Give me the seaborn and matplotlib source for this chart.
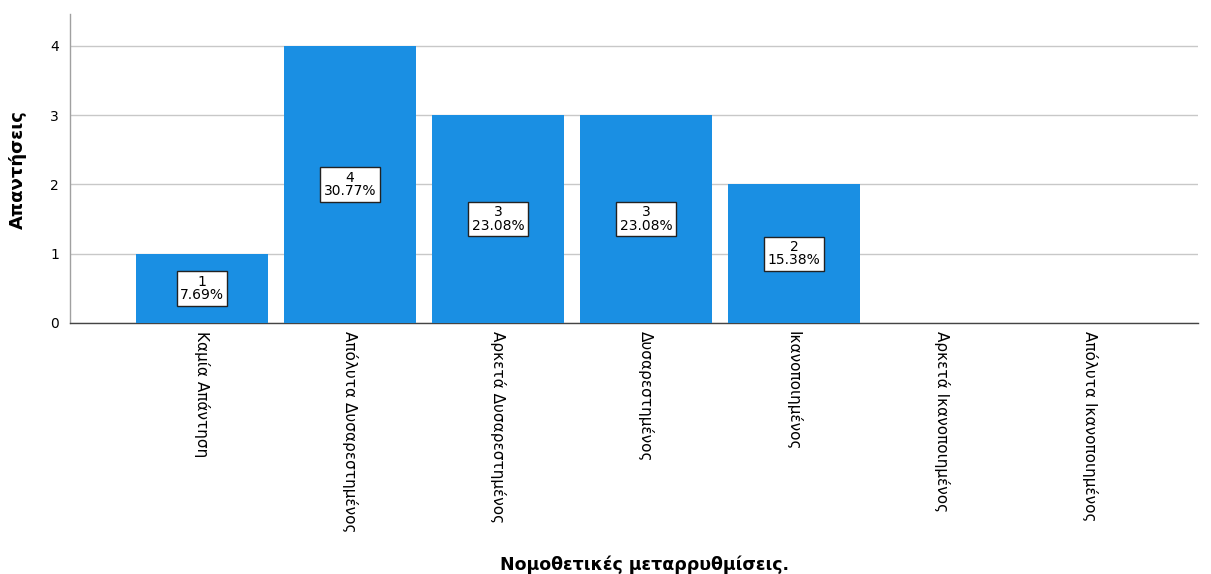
import matplotlib
matplotlib.use("Agg")
import matplotlib.pyplot as plt
import seaborn as sns
import pandas as pd

categories = ["Καμία Απάντηση", "Απόλυτα Δυσαρεστημένος", "Αρκετά Δυσαρεστημένος",
              "Δυσαρεστημένος", "Ικανοποιημένος", "Αρκετά Ικανοποιημένος",
              "Απόλυτα Ικανοποιημένος"]
counts = [1, 4, 3, 3, 2, 0, 0]
percents = ["7.69%", "30.77%", "23.08%", "23.08%", "15.38%", "", ""]
yticks = [0, 1, 2, 3, 4]

sns.set_style("white")
plt.rcParams['font.family'] = ['DejaVu Sans']
plt.rcParams['text.color'] = 'black'
plt.rcParams['xtick.color'] = 'black'
plt.rcParams['ytick.color'] = 'black'

df = pd.DataFrame({"cat": categories, "n": counts})

fig = plt.figure(figsize=(12.11, 5.74), dpi=100)
ax = fig.add_axes([70/1211, 1-323/574, (1198-70)/1211, (323-14)/574])

sns.barplot(data=df, x="cat", y="n", ax=ax, color="#1A8FE3", saturation=1,
            width=0.89, edgecolor="#1A8FE3", linewidth=0, zorder=3)

ax.set_xlim(-0.892, 6.73)
ax.set_ylim(0, 4.46)
ax.set_yticks(yticks)
ax.set_yticklabels([str(t) for t in yticks], fontsize=10)
ax.yaxis.grid(True, color="#c8c8c8", linewidth=1, zorder=0)
ax.set_axisbelow(True)

ax.set_xticks(range(len(categories)))
ax.set_xticklabels(categories, rotation=270, fontsize=11, va="top", ha="center")
ax.tick_params(axis="x", length=0, pad=6, labelcolor="black")
ax.tick_params(axis="y", length=0, pad=8, labelcolor="black")

for s in ["top", "right"]:
    ax.spines[s].set_visible(False)
ax.spines["left"].set_color("#a0a0a0")
ax.spines["bottom"].set_color("#444444")
ax.spines["left"].set_linewidth(1)
ax.spines["bottom"].set_linewidth(1)

for i, (c, p) in enumerate(zip(counts, percents)):
    if c > 0:
        ax.text(i, c / 2, f"{c}\n{p}", ha="center", va="center", fontsize=10,
                linespacing=0.95, zorder=5, color="black",
                bbox=dict(boxstyle="square,pad=0.25", facecolor="white",
                          edgecolor="#222222", linewidth=1))

ax.set_xlabel("")
ax.set_ylabel("")
fig.text(18/1211, 1-170/574, "Απαντήσεις", rotation=90, ha="center", va="center",
         fontsize=13, fontweight="bold", color="black",
         family=["Liberation Sans Narrow", "DejaVu Sans"])
fig.text(645/1211, 1-565/574, "Νομοθετικές μεταρρυθμίσεις.", ha="center", va="center",
         fontsize=12.5, fontweight="bold", color="black")

fig.savefig("out.png", dpi=100)
